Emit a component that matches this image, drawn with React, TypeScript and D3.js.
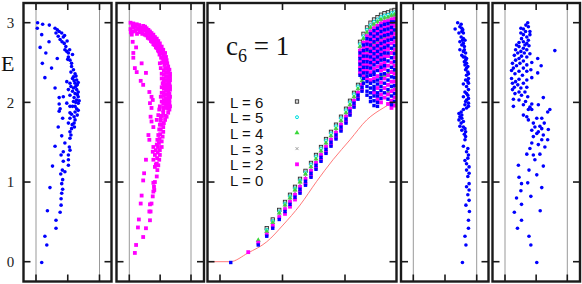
import React from 'react';
import * as d3 from 'd3';

type Pt = [number, number];

// shared energy axis
const eTicks = [0, 1, 2, 3];
const eTickLabels = ['0', '1', '2', '3'];
const sideTicks = [0, 1, 2];
const midTicks = [0, 5, 10];

// panel 1 : L = 0 amplitudes (blue)
const panel1: Pt[] = [
  [0.05, 3.0], [0.21, 2.98], [0.42, 2.97], [0.6, 2.93], [0.67, 2.91], [0.04, 2.93], [0.18, 2.85], [0.73, 2.89],
  [0.81, 2.87], [0.63, 2.87], [0.7, 2.83], [0.86, 2.82], [0.76, 2.79], [0.82, 2.76], [0.89, 2.74], [0.13, 2.69],
  [0.41, 2.76], [0.94, 2.7], [0.91, 2.66], [0.97, 2.64], [1.02, 2.62], [0.31, 2.62], [1.02, 2.57], [1.07, 2.53],
  [1.12, 2.49], [0.67, 2.55], [1.0, 2.54], [0.2, 2.49], [0.49, 2.43], [1.12, 2.45], [1.18, 2.41], [1.23, 2.36],
  [1.18, 2.32], [1.28, 2.28], [0.28, 2.31], [0.97, 2.26], [1.07, 2.24], [1.23, 2.24], [1.3, 2.22], [0.6, 2.18],
  [1.02, 2.16], [1.18, 2.18], [1.28, 2.16], [1.33, 2.13], [1.23, 2.11], [1.07, 2.09], [1.33, 2.07], [0.73, 2.06],
  [0.86, 2.07], [1.28, 2.03], [1.18, 2.01], [1.33, 1.99], [0.97, 1.99], [0.73, 1.98], [1.07, 1.95], [1.23, 1.95],
  [0.76, 1.92], [1.33, 1.9], [0.73, 1.89], [1.23, 1.88], [1.07, 1.87], [1.3, 1.84], [1.2, 1.82], [0.84, 1.8],
  [1.07, 1.8], [1.23, 1.78], [1.02, 1.74], [0.7, 1.69], [1.12, 1.67], [1.21, 1.69], [1.07, 1.63], [0.81, 1.58],
  [1.1, 1.59], [1.07, 1.55], [0.91, 1.49], [1.05, 1.44], [0.6, 1.45], [1.07, 1.4], [0.86, 1.38], [1.02, 1.34],
  [0.79, 1.34], [1.02, 1.28], [0.86, 1.26], [1.02, 1.21], [0.52, 1.2], [0.91, 1.13], [0.83, 1.15], [0.78, 1.1],
  [0.84, 1.03], [0.81, 0.98], [0.44, 0.93], [0.84, 0.91], [0.81, 0.86], [0.79, 0.79], [0.36, 0.64], [0.79, 0.71],
  [0.76, 0.62], [0.63, 0.52], [0.63, 0.42], [0.28, 0.32], [0.34, 0.21], [0.18, -0.01],
  [1.15, 2.3], [1.25, 2.2], [1.3, 2.1], [1.2, 2.06], [1.15, 1.95], [1.28, 1.92], [1.15, 2.14], [1.2, 2.27],
  [1.1, 2.2], [1.25, 2.0], [1.33, 2.25], [1.36, 2.02], [1.12, 1.85], [1.26, 2.33], [1.1, 2.38], [1.15, 2.6],
  [1.06, 2.66], [0.98, 2.77], [0.9, 2.84], [1.2, 1.74], [1.14, 1.72],
];

// panel 2 : L = 2 amplitudes (magenta)
const panel2: Pt[] = [
  [0.04, 3.0], [0.13, 2.99], [0.24, 2.98], [0.32, 2.97], [0.45, 2.96], [0.51, 2.95], [0.56, 2.93], [0.62, 2.91],
  [0.67, 2.89], [0.72, 2.87], [0.78, 2.85], [0.83, 2.82], [0.89, 2.8], [0.94, 2.77], [0.99, 2.74], [1.05, 2.7],
  [1.1, 2.66], [1.16, 2.62], [1.19, 2.57], [1.21, 2.53], [1.23, 2.49], [1.26, 2.45], [1.3, 2.41], [1.32, 2.36],
  [1.32, 2.32], [1.32, 2.28], [1.3, 2.24], [1.32, 2.2], [1.32, 2.16], [1.3, 2.11], [1.32, 2.07], [1.3, 2.03],
  [1.3, 1.99], [1.32, 1.95], [1.3, 1.91], [1.26, 1.87], [1.21, 1.82], [1.16, 1.78], [1.12, 1.74], [1.1, 1.69],
  [1.1, 1.63], [1.08, 1.57], [1.05, 1.51], [1.05, 1.44], [0.99, 1.4], [0.99, 1.34], [0.97, 1.28], [0.94, 1.21],
  [0.91, 1.15], [0.89, 1.07], [0.83, 1.0], [0.8, 0.94], [0.78, 0.88], [0.76, 0.82], [0.72, 0.73], [0.69, 0.63],
  [0.67, 0.52], [0.54, 0.42], [0.45, 0.31],
  [0.4, 2.93], [0.51, 2.9], [0.62, 2.87], [0.72, 2.82], [0.8, 2.78], [0.86, 2.74], [0.94, 2.7], [0.99, 2.66],
  [1.05, 2.62], [1.08, 2.56], [1.1, 2.52], [1.14, 2.47], [1.16, 2.43], [1.19, 2.38], [1.19, 2.33], [1.21, 2.28],
  [1.19, 2.23], [1.21, 2.19], [1.19, 2.15], [1.19, 2.1], [1.19, 2.05], [1.16, 2.01], [1.19, 1.97], [1.16, 1.93],
  [1.1, 1.87], [1.05, 1.83], [1.02, 1.77], [0.99, 1.72], [0.97, 1.66], [0.94, 1.59], [0.91, 1.53], [0.89, 1.47],
  [0.86, 1.4], [0.83, 1.34], [0.78, 1.28],
  [0.99, 2.49], [1.02, 2.43], [1.05, 2.36], [1.05, 2.3], [1.08, 2.24], [1.05, 2.19], [1.05, 2.12], [1.02, 2.07],
  [1.05, 2.01], [0.99, 1.95], [0.97, 1.91], [0.94, 1.84], [0.89, 1.78],
  [0.1, 2.96], [0.2, 2.95], [0.3, 2.93], [0.45, 2.91], [0.56, 2.88], [0.67, 2.84], [0.75, 2.8], [0.83, 2.77],
  [0.9, 2.73], [0.2, 2.9], [0.33, 2.88], [0.5, 2.85], [0.6, 2.81], [0.7, 2.77], [0.78, 2.73], [0.86, 2.69],
  [0.93, 2.65], [0.98, 2.6], [1.03, 2.56], [1.06, 2.5], [1.12, 2.58],
  [0.15, 2.94], [0.28, 2.92], [0.38, 2.9], [0.25, 2.86], [0.42, 2.86], [0.55, 2.84], [0.65, 2.8], [0.74, 2.76],
  [0.82, 2.72], [0.9, 2.68], [0.96, 2.64], [0.05, 2.88], [0.12, 2.89], [0.35, 2.94], [0.58, 2.9], [0.68, 2.86],
  [0.76, 2.83], [0.85, 2.79], [0.92, 2.75], [0.98, 2.7], [1.04, 2.66], [1.09, 2.61], [1.14, 2.55], [1.17, 2.5],
  [1.26, 2.41], [1.26, 2.37], [1.26, 2.32], [1.26, 2.28], [1.26, 2.24], [1.26, 2.2], [1.26, 2.16], [1.26, 2.12],
  [1.26, 2.08], [1.26, 2.04], [1.26, 2.0], [1.26, 1.96], [1.26, 1.92],
  [1.12, 2.4], [1.12, 2.35], [1.12, 2.3], [1.12, 2.26], [1.12, 2.21], [1.12, 2.17], [1.12, 2.12], [1.12, 2.08],
  [1.12, 2.03], [1.1, 1.99], [1.1, 1.94], [1.1, 1.9], [1.16, 1.83],
  [1.02, 1.8], [1.04, 1.72], [1.02, 1.66], [1.0, 1.6], [0.98, 1.54], [0.96, 1.49], [0.93, 1.44], [0.92, 1.37],
  [0.9, 1.3], [0.86, 1.22],
  [0.04, 2.92], [0.08, 2.85], [0.11, 2.76], [0.22, 2.69], [0.13, 2.62], [0.13, 2.56], [0.4, 2.49], [0.18, 2.43],
  [0.24, 2.38], [0.54, 2.37], [0.37, 2.27], [0.45, 2.22], [0.65, 2.13], [0.72, 2.07], [0.67, 1.99], [0.72, 1.93],
  [0.76, 2.03], [0.69, 1.82], [0.72, 1.76], [0.78, 1.69], [0.62, 1.59], [0.65, 1.53], [0.78, 1.44], [0.76, 1.38],
  [0.54, 1.28], [0.89, 1.23], [0.83, 1.19], [0.48, 1.11], [0.45, 1.02], [0.78, 0.99], [0.81, 0.9], [0.4, 0.83],
  [0.37, 0.73], [0.67, 0.72], [0.65, 0.63], [0.31, 0.53], [0.28, 0.43], [0.22, 0.21], [0.18, 0.11],
];

// panel 4 (blue)
const panel4: Pt[] = [
  [1.4, 3.0], [1.51, 2.98], [1.32, 2.92], [1.47, 2.95], [1.53, 2.93], [1.56, 2.91], [1.44, 2.87], [1.58, 2.87],
  [1.51, 2.82], [1.58, 2.8], [1.47, 2.76], [1.63, 2.78], [1.53, 2.72], [1.61, 2.7], [1.47, 2.66], [1.58, 2.64],
  [1.65, 2.62], [1.53, 2.59], [1.63, 2.57], [1.68, 2.55], [1.61, 2.51], [1.68, 2.49], [1.63, 2.47], [1.72, 2.45],
  [1.65, 2.41], [1.72, 2.38], [1.68, 2.34], [1.74, 2.3], [1.65, 2.28], [1.74, 2.24], [1.58, 2.23], [1.68, 2.2],
  [1.74, 2.16], [1.63, 2.13], [1.72, 2.09], [1.58, 2.07], [1.68, 2.03], [1.74, 1.99], [1.63, 1.97], [1.74, 1.95],
  [1.58, 1.91], [1.51, 1.88], [1.44, 1.86], [1.47, 1.82], [1.53, 1.8], [1.44, 1.78], [1.51, 1.74], [1.47, 1.7],
  [1.58, 1.69], [1.63, 1.67], [1.53, 1.65], [1.65, 1.63], [1.61, 1.6], [1.65, 1.57], [1.63, 1.53], [1.58, 1.45],
  [1.72, 1.42], [1.68, 1.38], [1.74, 1.34], [1.72, 1.3], [1.63, 1.27], [1.68, 1.23], [1.76, 1.19], [1.68, 1.15],
  [1.76, 1.11], [1.72, 1.07], [1.76, 0.98], [1.68, 0.94], [1.76, 0.9], [1.72, 0.84], [1.76, 0.77], [1.66, 0.71],
  [1.77, 0.63], [1.74, 0.52], [1.74, 0.42], [1.63, 0.32], [1.66, 0.21], [1.55, -0.01],
  [1.53, 2.89], [1.55, 2.78], [1.58, 2.74], [1.61, 2.66], [1.58, 2.57], [1.65, 2.53], [1.68, 2.43], [1.74, 2.36],
  [1.72, 2.26], [1.68, 2.11], [1.74, 2.05], [1.65, 2.01], [1.68, 1.93], [1.53, 1.84], [1.58, 1.76],
];

// panel 5 (blue)
const panel5: Pt[] = [
  [0.73, 3.0], [0.67, 2.97], [0.75, 2.95], [0.51, 2.93], [0.59, 2.92], [0.8, 2.89], [0.66, 2.89], [0.51, 2.87],
  [0.59, 2.85], [0.8, 2.85], [0.7, 2.82], [0.53, 2.8], [0.75, 2.78], [0.59, 2.76], [0.45, 2.75], [0.7, 2.74],
  [0.37, 2.72], [0.64, 2.72], [0.77, 2.71], [0.45, 2.7], [0.59, 2.68], [0.34, 2.66], [0.7, 2.66], [0.51, 2.64],
  [1.6, 2.65], [0.41, 2.62], [0.62, 2.62], [0.3, 2.59], [0.8, 2.61], [0.53, 2.58], [0.7, 2.57], [0.45, 2.55],
  [1.05, 2.55], [0.34, 2.53], [0.59, 2.52], [0.86, 2.5], [0.24, 2.49], [0.48, 2.49], [0.7, 2.47], [0.37, 2.46],
  [1.16, 2.46], [0.27, 2.43], [0.59, 2.43], [0.83, 2.41], [0.21, 2.4], [0.45, 2.39], [0.7, 2.39], [1.05, 2.37],
  [0.32, 2.36], [0.56, 2.34], [0.86, 2.31], [0.21, 2.3], [0.45, 2.29], [0.7, 2.28], [0.34, 2.26], [0.24, 2.24],
  [0.59, 2.24], [0.41, 2.22], [0.3, 2.19], [0.51, 2.18], [0.7, 2.19], [0.24, 2.16], [0.45, 2.13], [0.64, 2.13],
  [0.32, 2.11], [0.53, 2.09], [0.73, 2.07], [1.23, 2.06], [0.27, 2.04], [0.45, 2.03], [0.66, 2.01], [0.86, 1.98],
  [0.27, 1.95], [0.59, 1.97], [0.8, 1.94], [1.07, 1.97], [0.75, 1.91], [0.59, 1.84], [0.86, 1.91], [1.44, 1.91],
  [1.37, 1.88], [0.7, 1.82], [1.02, 1.8], [1.18, 1.8], [0.75, 1.78], [0.91, 1.74], [1.26, 1.74], [1.12, 1.7],
  [0.96, 1.69], [1.18, 1.67], [1.39, 1.66], [0.86, 1.65], [1.07, 1.63], [1.02, 1.61], [1.23, 1.59], [0.91, 1.57],
  [1.37, 1.53], [1.18, 1.53], [0.86, 1.49], [1.07, 1.47], [1.28, 1.44], [0.8, 1.42], [0.7, 1.35], [1.12, 1.35],
  [0.91, 1.34], [0.96, 1.28], [1.23, 1.2], [0.43, 1.21], [0.77, 1.15], [1.02, 1.09], [0.45, 1.06], [0.53, 0.98],
  [0.73, 0.99], [1.18, 0.93], [0.51, 0.89], [0.37, 0.8], [0.83, 0.82], [0.53, 0.72], [0.3, 0.62], [1.13, 0.64],
  [0.53, 0.52], [0.4, 0.42], [0.77, 0.32], [0.83, 0.21], [1.02, -0.01],
];

// central panel, lower band: one column per x, one E per L (null = no state)
const bandX = [0.86, 2.26, 3.06, 3.74, 4.22, 4.74, 5.2, 5.6, 6.0, 6.4, 6.84, 7.28, 7.68, 8.08, 8.48, 8.88, 9.28, 9.68, 10.08, 10.4, 10.72, 11.04, 11.36];
const bandL6 = [null, null, null, 0.42, 0.53, 0.65, 0.75, 0.84, 0.94, 1.04, 1.14, 1.24, 1.34, 1.44, 1.54, 1.63, 1.72, 1.82, 1.92, 2.02, 2.12, 2.22, 2.32];
const bandL5 = [null, null, null, 0.4, 0.51, 0.63, 0.73, 0.82, 0.92, 1.02, 1.12, 1.22, 1.32, 1.42, 1.52, 1.61, 1.7, 1.8, 1.9, 2.0, 2.1, 2.2, 2.3];
const bandL4 = [null, null, 0.27, 0.38, 0.49, 0.61, 0.71, 0.8, 0.9, 1.0, 1.1, 1.19, 1.29, 1.39, 1.49, 1.58, 1.67, 1.77, 1.87, 1.97, 2.07, 2.17, 2.27];
const bandL3 = [null, null, null, 0.36, 0.47, 0.59, 0.69, 0.78, 0.87, 0.97, 1.07, 1.17, 1.27, 1.37, 1.47, 1.56, 1.65, 1.75, 1.85, 1.95, 2.05, 2.15, 2.25];
const bandL2 = [null, 0.12, 0.24, 0.34, 0.45, 0.56, 0.66, 0.75, 0.84, 0.94, 1.04, 1.14, 1.24, 1.34, 1.44, 1.53, 1.62, 1.72, 1.82, 1.92, 2.02, 2.12, 2.22];
const bandL0 = [-0.01, null, 0.21, 0.32, 0.42, 0.53, 0.63, 0.72, 0.81, 0.91, 1.01, 1.11, 1.21, 1.31, 1.41, 1.5, 1.59, 1.69, 1.79, 1.89, 1.99, 2.09, 2.19];
const bandL2b = [null, null, null, null, null, null, 0.6, 0.69, 0.78, 0.88, 0.98, 1.08, 1.18, 1.28, 1.38, 1.47, 1.56, 1.66, 1.76, 1.86, 1.96, 2.06, 2.16];
const bandL0b = [null, null, null, null, null, null, null, null, null, 0.86, 0.96, 1.06, 1.16, 1.26, 1.36, 1.45, 1.54, 1.64, 1.74, 1.84, 1.94, 2.04, 2.14];

// central panel, upper fan: one column per x, list of E per L
const fanX = [11.2, 11.48, 11.76, 12.04, 12.32, 12.6, 12.88, 13.16, 13.44, 13.72, 13.96];
const fanL6 = [2.76, 2.86, 2.94, 3.0, 3.04, 3.07, 3.1, 3.12, 3.13, 3.15, 3.16];
const fanL5 = [2.73, 2.83, 2.91, 2.97, 3.01, 3.04, 3.07, 3.09, 3.1, 3.12, 3.13];
const fanL3 = [2.68, 2.78, 2.86, 2.92, 2.96, 2.99, 3.02, 3.04, 3.05, 3.07, 3.08];
const fanL4 = [
  [2.7], [2.8, 2.58], [2.88, 2.64], [2.94, 2.7], [2.98, 2.74, 2.5], [3.01, 2.77, 2.52],
  [3.04, 2.8, 2.55, 2.32], [3.06, 2.82, 2.58, 2.34], [3.07, 2.84, 2.6, 2.36, 2.12],
  [3.09, 2.86, 2.62, 2.38, 2.14], [3.1, 2.88, 2.64, 2.4, 2.16],
];
const fanL2 = [
  [2.65, 2.58, 2.51, 2.44, 2.37],
  [2.75, 2.68, 2.61, 2.54, 2.47, 2.4, 2.33],
  [2.83, 2.76, 2.69, 2.61, 2.54, 2.47, 2.4, 2.3],
  [2.89, 2.82, 2.75, 2.67, 2.6, 2.53, 2.46, 2.38, 2.28],
  [2.93, 2.86, 2.79, 2.71, 2.64, 2.57, 2.5, 2.42, 2.3, 2.12],
  [2.96, 2.89, 2.82, 2.74, 2.67, 2.6, 2.53, 2.45, 2.33, 2.18, 2.04],
  [2.99, 2.92, 2.85, 2.77, 2.7, 2.63, 2.56, 2.48, 2.4, 2.25, 2.1, 2.0],
  [3.01, 2.94, 2.87, 2.79, 2.72, 2.65, 2.58, 2.5, 2.42, 2.3, 2.18, 2.06],
  [3.02, 2.95, 2.88, 2.81, 2.74, 2.67, 2.58, 2.46, 2.34, 2.22, 2.1, 1.98],
  [3.04, 2.97, 2.9, 2.83, 2.74, 2.62, 2.5, 2.38, 2.26, 2.14, 2.02, 1.93],
  [3.05, 2.96, 2.86, 2.76, 2.66, 2.56, 2.46, 2.36, 2.26, 2.16, 2.06, 1.96],
];
const fanL0 = [
  [2.62, 2.55, 2.48, 2.41, 2.34],
  [2.72, 2.65, 2.58, 2.51, 2.44, 2.37, 2.3, 2.24],
  [2.8, 2.73, 2.66, 2.58, 2.51, 2.44, 2.37, 2.33, 2.26, 2.2, 2.14, 2.09],
  [2.86, 2.79, 2.72, 2.64, 2.57, 2.5, 2.43, 2.34, 2.24, 2.18, 2.12, 2.06, 2.01],
  [2.9, 2.83, 2.76, 2.68, 2.61, 2.54, 2.47, 2.38, 2.35, 2.26, 2.2, 2.16, 2.08, 2.02, 1.96],
  [2.93, 2.86, 2.79, 2.71, 2.64, 2.57, 2.5, 2.4, 2.28, 2.23, 2.12, 2.08, 2.0, 1.95],
  [2.96, 2.89, 2.82, 2.74, 2.67, 2.6, 2.53, 2.44, 2.35, 2.3, 2.2, 2.15, 2.05],
  [2.98, 2.91, 2.84, 2.76, 2.69, 2.62, 2.54, 2.46, 2.36, 2.24, 2.12],
  [2.99, 2.92, 2.85, 2.78, 2.71, 2.62, 2.52, 2.4, 2.28, 2.16, 2.04],
  [3.01, 2.94, 2.87, 2.79, 2.68, 2.56, 2.44, 2.32, 2.2, 2.08, 1.97],
  [3.01, 2.91, 2.81, 2.71, 2.61, 2.51, 2.41, 2.31, 2.21, 2.11, 2.01],
];

// lower bound curve (red)
const redCurve: Pt[] = [
  [-1, 0], [0.8, 0], [2.24, 0.11], [3.74, 0.25], [5.04, 0.46], [6.4, 0.71], [7.74, 1.01],
  [9.04, 1.28], [10.4, 1.53], [11.74, 1.78], [13.06, 1.93], [13.74, 1.99], [14.2, 2.02],
];

const legendKeys = ['L6', 'L5', 'L4', 'L3', 'L2', 'L0'];
const legendLabels = ['L = 6', 'L = 5', 'L = 4', 'L = 3', 'L = 2', 'L = 0'];

const TOP = 3;
const BOTTOM = 281.5;
const yE = d3.scaleLinear().domain([0, 3]).range([261.7, 22.7]);
const ink = '#1a1a1a';

function mark(kind: string, x: number, y: number, key: string | number) {
  switch (kind) {
    case 'L6':
      return <rect key={key} x={x - 1.7} y={y - 1.7} width={3.4} height={3.4} fill="#d8d8d8" stroke="#222" strokeWidth={0.8} />;
    case 'L5':
      return <circle key={key} cx={x} cy={y} r={1.5} fill="#e8ffff" stroke="#00dede" strokeWidth={1} />;
    case 'L4':
      return <path key={key} d={d3.symbol(d3.symbolTriangle, 11)()!} transform={`translate(${x},${y})`} fill="#3ad83a" />;
    case 'L3':
      return (
        <g key={key} stroke="#888" strokeWidth={0.8}>
          <line x1={x - 1.5} y1={y - 1.5} x2={x + 1.5} y2={y + 1.5} />
          <line x1={x - 1.5} y1={y + 1.5} x2={x + 1.5} y2={y - 1.5} />
        </g>
      );
    case 'L2':
      return <rect key={key} x={x - 1.9} y={y - 1.9} width={3.8} height={3.8} fill="#ff00ff" />;
    case 'sq':
      return <rect key={key} x={x - 1.9} y={y - 1.9} width={3.8} height={3.8} fill="#ff00ff" />;
    case 'dot':
      return <circle key={key} cx={x} cy={y} r={1.8} fill="#0000ff" />;
    default:
      return <rect key={key} x={x - 1.7} y={y - 1.7} width={3.4} height={3.4} fill="#0000ff" />;
  }
}

function Frame({ left, right, xTicks }: { left: number; right: number; xTicks: number[] }) {
  return (
    <g stroke={ink}>
      {xTicks.map((t, i) => (
        <g key={i} strokeWidth={1.6}>
          <line x1={t} x2={t} y1={TOP} y2={TOP + 7} />
          <line x1={t} x2={t} y1={BOTTOM - 7} y2={BOTTOM} />
        </g>
      ))}
      {eTicks.map((e) => (
        <g key={e} strokeWidth={1.6}>
          <line x1={left} x2={left + 7} y1={yE(e)} y2={yE(e)} />
          <line x1={right - 7} x2={right} y1={yE(e)} y2={yE(e)} />
        </g>
      ))}
      <rect x={left} y={TOP} width={right - left} height={BOTTOM - TOP} fill="none" strokeWidth={2.4} />
    </g>
  );
}

const sidePanels = [
  { left: 23.5, right: 111.5, g0: 36, g2: 99.5, pts: panel1, kind: 'dot' },
  { left: 116.5, right: 204, g0: 129.3, g2: 191, pts: panel2, kind: 'sq' },
  { left: 401, right: 488.5, g0: 413.3, g2: 476.7, pts: panel4, kind: 'dot' },
  { left: 492.5, right: 580, g0: 505, g2: 567.3, pts: panel5, kind: 'dot' },
];

export default function App() {
  const mid = { left: 207.5, right: 396.5 };
  const xMid = d3.scaleLinear().domain([0, 10]).range([220, 345]);

  const band: Record<string, (number | null)[][]> = {
    L6: [bandL6], L5: [bandL5], L4: [bandL4], L3: [bandL3], L2: [bandL2, bandL2b], L0: [bandL0, bandL0b],
  };
  const fan: Record<string, number[][]> = {
    L6: fanL6.map((e) => [e]), L5: fanL5.map((e) => [e]), L4: fanL4, L3: fanL3.map((e) => [e]), L2: fanL2, L0: fanL0,
  };
  const midPoints = (k: string): Pt[] => {
    const pts: Pt[] = [];
    band[k].forEach((arr) => arr.forEach((e, i) => { if (e !== null) pts.push([bandX[i], e]); }));
    fan[k].forEach((col, i) => col.forEach((e) => pts.push([fanX[i], e])));
    return pts;
  };

  const redPath = d3.line<Pt>().x((d) => xMid(d[0])).y((d) => yE(d[1])).curve(d3.curveMonotoneX)(redCurve)!;

  return (
    <svg width={582} height={284} style={{ position: 'absolute', left: 0, top: 0, background: '#fff' }}>
      <defs>
        <clipPath id="midClip">
          <rect x={mid.left} y={TOP} width={mid.right - mid.left} height={BOTTOM - TOP} />
        </clipPath>
      </defs>

      {/* axis labels */}
      <text x={1} y={71} fontFamily="Liberation Serif" fontSize={22} fill="#111">E</text>
      {eTicks.map((e, i) => (
        <text key={e} x={10.5} y={yE(e)} dy="0.35em" textAnchor="middle" fontFamily="Liberation Serif" fontSize={15} fill="#222">
          {eTickLabels[i]}
        </text>
      ))}

      {/* side panels */}
      {sidePanels.map((p, pi) => {
        const xs = d3.scaleLinear().domain([0, 2]).range([p.g0, p.g2]);
        return (
          <g key={pi}>
            <line x1={xs(0)} x2={xs(0)} y1={TOP} y2={BOTTOM} stroke="#999" strokeWidth={1} />
            <line x1={xs(2)} x2={xs(2)} y1={TOP} y2={BOTTOM} stroke="#999" strokeWidth={1} />
            {p.pts.map((d, i) => mark(p.kind, xs(d[0]), yE(d[1]), i))}
            <Frame left={p.left} right={p.right} xTicks={sideTicks.map((t) => xs(t))} />
          </g>
        );
      })}

      {/* central panel */}
      <g clipPath="url(#midClip)">
        <path d={redPath} fill="none" stroke="#ff6a6a" strokeWidth={0.9} />
        {legendKeys.map((k) => (
          <g key={k}>{midPoints(k).map((d, i) => mark(k, xMid(d[0]), yE(d[1]), i))}</g>
        ))}
      </g>
      <text x={226} y={55} fontFamily="Liberation Serif" fontSize={27} fill="#111">
        c<tspan fontSize={18} dy={7}>6</tspan><tspan dy={-7}> = 1</tspan>
      </text>
      {legendLabels.map((lab, i) => (
        <g key={lab}>
          <text x={230} y={107.5 + i * 15.7} fontFamily="Liberation Sans" fontSize={15} fill="#111">{lab}</text>
          {legendKeys[i] !== 'L0' && mark(legendKeys[i], 297, 101.5 + i * 15.7, 'lg' + i)}
        </g>
      ))}
      <Frame left={mid.left} right={mid.right} xTicks={midTicks.map((t) => xMid(t))} />
    </svg>
  );
}
